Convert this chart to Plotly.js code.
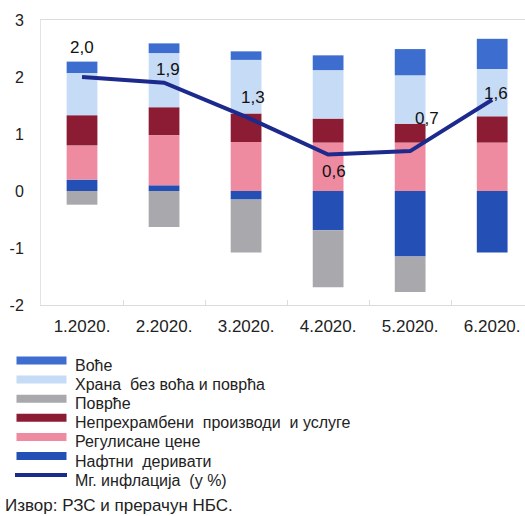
<!DOCTYPE html>
<html>
<head>
<meta charset="utf-8">
<script src="https://cdn.plot.ly/plotly-3.0.1.min.js"></script>
<style>
html,body{margin:0;padding:0;background:#fff;}
#chart{width:525px;height:516px;}
</style>
</head>
<body>
<div id="chart"></div>
<script>
// ---- data ----
var months = ['1.2020.', '2.2020.', '3.2020.', '4.2020.', '5.2020.', '6.2020.'];
var naftniDerivati   = [0.20, 0.10, -0.15, -0.69, -1.15, -1.08];
var regulisaneCene   = [0.60, 0.88, 0.86, 0.85, 0.85, 0.85];
var neprehrambeni    = [0.53, 0.49, 0.50, 0.42, 0.33, 0.46];
var hranaBezVocaPovrca = [0.74, 0.95, 0.94, 0.85, 0.85, 0.83];
var voce             = [0.20, 0.17, 0.15, 0.26, 0.46, 0.53];
var povrce           = [-0.24, -0.63, -0.93, -1.00, -0.62, 0];
var inflacija        = [2.0, 1.9, 1.3, 0.64, 0.7, 1.6];
var yTickVals = [-2, -1, 0, 1, 2, 3];
var yTickText = ['-2', '-1', '0', '1', '2', '3'];
var legendNames = ['Воће', 'Храна  без воћа и поврћа', 'Поврће', 'Непрехрамбени  производи  и услуге', 'Регулисане цене', 'Нафтни  деривати', 'Мг. инфлација  (у %)'];
var sourceText = 'Извор: РЗС и прерачун НБС.';

// ---- styles ----
var FONT = 'Liberation Sans, Arial, sans-serif';
var C = {
  voce: '#3d6ecf',
  hrana: '#c6dbf5',
  povrce: '#a8a8ad',
  neprehr: '#8c1b34',
  regul: '#ee8ba1',
  nafta: '#2450b6',
  line: '#1b2a8c'
};
var legendColors = [C.voce, C.hrana, C.povrce, C.neprehr, C.regul, C.nafta, C.line];

// label offsets (pixels) for the inflation values
var lblDX = [0, 4, 7, 6, 17, 4];
var lblDY = [30, 13, 19, -17, 33, 6];

var W = 525, H = 516;
var M = {l: 41, r: 0, t: 20, b: 211};
var plotW = W - M.l - M.r, plotH = H - M.t - M.b;
function px(x) { return (x - M.l) / plotW; }
function py(y) { return (H - M.b - y) / plotH; }

function barTrace(name, vals, color) {
  return {
    type: 'bar', name: name, x: months, y: vals,
    marker: {color: color, line: {width: 0}},
    width: 0.375, showlegend: false, hoverinfo: 'y+name'
  };
}

var traces = [
  barTrace(legendNames[5], naftniDerivati, C.nafta),
  barTrace(legendNames[4], regulisaneCene, C.regul),
  barTrace(legendNames[3], neprehrambeni, C.neprehr),
  barTrace(legendNames[1], hranaBezVocaPovrca, C.hrana),
  barTrace(legendNames[0], voce, C.voce),
  barTrace(legendNames[2], povrce, C.povrce),
  {
    type: 'scatter', mode: 'lines', name: legendNames[6], x: months, y: inflacija,
    line: {color: C.line, width: 4}, showlegend: false
  }
];

var annotations = [];
var shapes = [];
inflacija.forEach(function (v, i) {
  annotations.push({
    x: months[i], y: v, xref: 'x', yref: 'y',
    text: v.toFixed(1).replace('.', ','),
    showarrow: false, xshift: lblDX[i], yshift: lblDY[i],
    font: {family: FONT, size: 17, color: '#111'}
  });
});

// manual legend
var legTop = 360.5, legStep = 19.1;
legendNames.forEach(function (name, i) {
  var c = legTop + i * legStep;
  if (i < 6) {
    shapes.push({
      type: 'rect', xref: 'paper', yref: 'paper',
      x0: px(16.5), x1: px(66.5), y0: py(c + 4), y1: py(c - 4),
      fillcolor: legendColors[i], line: {width: 0}
    });
  } else {
    shapes.push({
      type: 'line', xref: 'paper', yref: 'paper',
      x0: px(15), x1: px(67), y0: py(c), y1: py(c),
      line: {color: legendColors[i], width: 4}
    });
  }
  annotations.push({
    xref: 'paper', yref: 'paper', x: px(73), y: py(c + 5),
    xanchor: 'left', yanchor: 'middle', showarrow: false,
    text: name, font: {family: FONT, size: 16, color: '#222'}
  });
});
annotations.push({
  xref: 'paper', yref: 'paper', x: px(3), y: py(505),
  xanchor: 'left', yanchor: 'middle', showarrow: false,
  text: sourceText, font: {family: FONT, size: 17, color: '#222'}
});

var layout = {
  width: W, height: H,
  margin: M,
  paper_bgcolor: '#fff', plot_bgcolor: '#fff',
  barmode: 'relative',
  showlegend: false,
  font: {family: FONT, size: 16, color: '#222'},
  xaxis: {
    type: 'category', range: [-0.5, 5.4],
    showgrid: false, zeroline: false,
    showline: true, linecolor: '#dcdcdc', linewidth: 1, mirror: true,
    ticks: 'inside', tickson: 'boundaries', ticklen: 5, tickcolor: '#dcdcdc',
    tickfont: {family: FONT, size: 17, color: '#222'},
    ticklabelstandoff: 6
  },
  yaxis: {
    range: [-2, 3], showgrid: false, zeroline: false,
    showline: true, linecolor: '#e4e4e4', linewidth: 1,
    tickvals: yTickVals, ticktext: yTickText, ticks: '',
    tickfont: {family: FONT, size: 16, color: '#222'},
    ticklabelstandoff: 13
  },
  annotations: annotations,
  shapes: shapes
};

Plotly.newPlot('chart', traces, layout, {displayModeBar: false, staticPlot: true});
</script>
</body>
</html>
